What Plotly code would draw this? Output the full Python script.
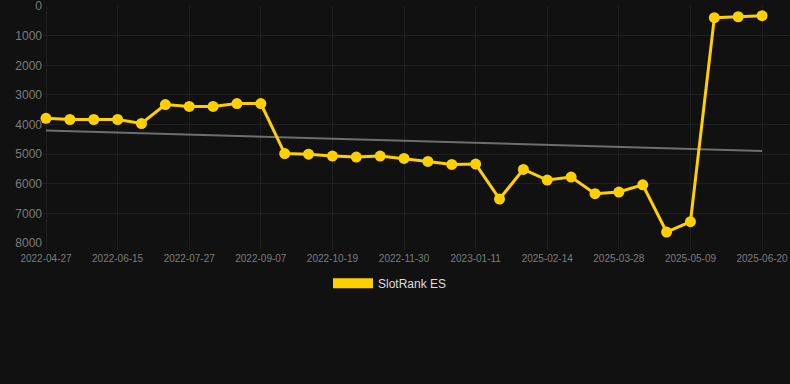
import plotly.graph_objects as go

dates = [
    "2022-04-27", "2022-05-18", "2022-06-01", "2022-06-15", "2022-06-29",
    "2022-07-13", "2022-07-27", "2022-08-10", "2022-08-24", "2022-09-07",
    "2022-09-21", "2022-10-05", "2022-10-19", "2022-11-02", "2022-11-16",
    "2022-11-30", "2022-12-14", "2022-12-28", "2023-01-11", "2023-01-25",
    "2025-01-31", "2025-02-14", "2025-02-28", "2025-03-14", "2025-03-28",
    "2025-04-11", "2025-04-25", "2025-05-09", "2025-05-23", "2025-06-06",
    "2025-06-20",
]
rank = [
    3790, 3830, 3830, 3830, 3965, 3325, 3390, 3390, 3290, 3290,
    4980, 5000, 5065, 5100, 5065, 5145, 5245, 5345, 5335, 6515,
    5515, 5875, 5775, 6335, 6280, 6035, 7630, 7280, 390, 360,
    325,
]
trend_dates = [dates[0], dates[-1]]
trend_values = [4205, 4890]
tick_labels = dates[::3]
y_ticks = [0, 1000, 2000, 3000, 4000, 5000, 6000, 7000, 8000]

YELLOW = "#FFD000"
BG = "#111111"
GRID = "#1f1f1f"
TICK = "#7c7c7c"

fig = go.Figure()
fig.add_trace(go.Scatter(
    x=trend_dates, y=trend_values, mode="lines",
    line=dict(color="#6e6e6e", width=2), showlegend=False, hoverinfo="skip",
))
fig.add_trace(go.Scatter(
    x=dates, y=rank, mode="lines+markers",
    line=dict(color=YELLOW, width=3),
    marker=dict(color=YELLOW, size=11),
    showlegend=False, name="SlotRank ES", cliponaxis=False,
))
fig.add_trace(go.Scatter(
    x=[None], y=[None], mode="lines",
    line=dict(color=YELLOW, width=12), name="SlotRank ES",
))

fig.update_layout(
    width=790, height=384,
    paper_bgcolor=BG, plot_bgcolor=BG,
    margin=dict(l=43, r=0, t=6, b=141),
    font=dict(family="Liberation Sans, Arial, sans-serif", color=TICK),
    showlegend=True,
    legend=dict(
        orientation="h", xref="container", yref="container",
        x=0.5 - 5 / 790, xanchor="center", y=(384 - 283.3) / 384, yanchor="middle",
        font=dict(size=12, color="#dddddd"), itemwidth=40,
        bgcolor="rgba(0,0,0,0)",
    ),
    xaxis=dict(
        type="category", categoryorder="array", categoryarray=dates,
        range=[-0.126, 31.17],
        tickmode="array", tickvals=tick_labels, ticktext=tick_labels,
        tickfont=dict(size=10, color=TICK),
        showgrid=True, gridcolor=GRID, gridwidth=1,
        ticks="outside", ticklen=6, tickcolor=GRID,
        showline=False, zeroline=False, ticklabeloverflow="allow",
    ),
    yaxis=dict(
        range=[8000, -3], tickmode="array", tickvals=y_ticks,
        ticktext=[str(v) for v in y_ticks],
        tickfont=dict(size=12, color=TICK),
        showgrid=True, gridcolor=GRID, gridwidth=1,
        zeroline=False, showline=False, ticks="",
        ticklabeloverflow="allow",
    ),
)

fig.write_html(
    "out.html",
    config={"displayModeBar": False},
    post_script="document.body.style.margin='0';document.body.style.background='#111111';",
)
